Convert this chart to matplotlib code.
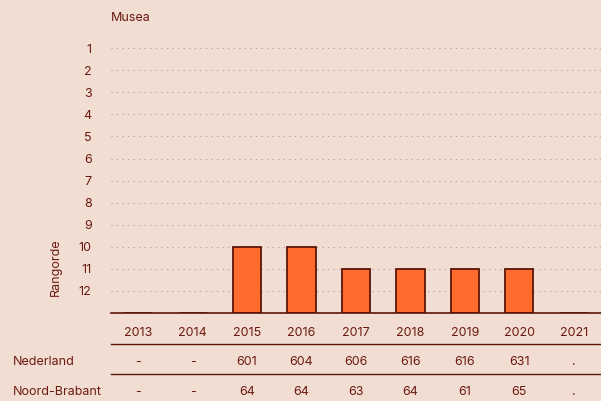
import matplotlib.pyplot as plt
import matplotlib.transforms as mtransforms
from matplotlib.lines import Line2D
import numpy as np

plt.rcParams['font.family'] = ['Inter', 'DejaVu Sans']

# data
jaren = ["2013", "2014", "2015", "2016", "2017", "2018", "2019", "2020", "2021"]
rangorde = [None, None, 10, 10, 11, 11, 11, 11, None]
nederland = ["-", "-", "601", "604", "606", "616", "616", "631", "."]
noord_brabant = ["-", "-", "64", "64", "63", "64", "61", "65", "."]
rijen = ["Nederland", "Noord-Brabant"]

bg = "#f2ddd3"
tekst = "#6b1a10"
oranje = "#ff6b2c"
rand = "#5c1408"
fs = 9

W, H = 601, 401
fig = plt.figure(figsize=(W / 100, H / 100), dpi=100, facecolor=bg)

# axes in pixels
links, onder, rechts, boven = 111, 313, 601, 35
ax = fig.add_axes([links / W, (H - onder) / H, (rechts - links) / W, (onder - boven) / H])
ax.set_facecolor(bg)

n_max = 13
x = np.arange(len(jaren))
hoogte = [0 if r is None else n_max - r for r in rangorde]

ax.bar(x, hoogte, width=0.52, color=oranje, edgecolor=rand, linewidth=1.3, zorder=3)

ax.set_xlim(-0.5, len(jaren) - 0.5)
ax.set_ylim(0, 12.6)
ax.set_yticks([n_max - r for r in range(1, 13)])
ax.set_yticklabels([str(r) for r in range(1, 13)], color=tekst, fontsize=fs)
ax.tick_params(axis='y', length=0, pad=14)
ax.set_xticks(x)
ax.set_xticklabels(jaren, color=tekst, fontsize=fs)
ax.tick_params(axis='x', length=0, pad=10)

ax.grid(axis='y', linestyle=(0, (1, 4)), color="#c0928a", linewidth=0.8, zorder=0)
for s in ["top", "right", "left"]:
    ax.spines[s].set_visible(False)
ax.spines["bottom"].set_color(rand)
ax.spines["bottom"].set_linewidth(1.2)
ax.spines["bottom"].set_zorder(4)

ax.set_ylabel("Rangorde", color=tekst, fontsize=fs)
ax.yaxis.set_label_coords((62 - links) / (rechts - links), (onder - 267) / (onder - boven))
fig.text(links / W, 1 - 18 / H, "Musea", color=tekst, fontsize=fs, ha='left', va='center')

# tabel onder de grafiek
trans = mtransforms.blended_transform_factory(ax.transData, fig.transFigure)
rij_y = [362, 392]
for naam, waarden, yp in zip(rijen, [nederland, noord_brabant], rij_y):
    fig.text(13 / W, 1 - yp / H, naam, color=tekst, fontsize=fs, ha='left', va='center')
    for xi, w in zip(x, waarden):
        ax.text(xi, 1 - yp / H, w, transform=trans, color=tekst, fontsize=fs,
                ha='center', va='center', clip_on=False)

for yl in [344, 374]:
    fig.add_artist(Line2D([links / W, 1], [1 - yl / H, 1 - yl / H], color=rand, linewidth=1.0))

fig.savefig("out.png", dpi=100, facecolor=bg)
